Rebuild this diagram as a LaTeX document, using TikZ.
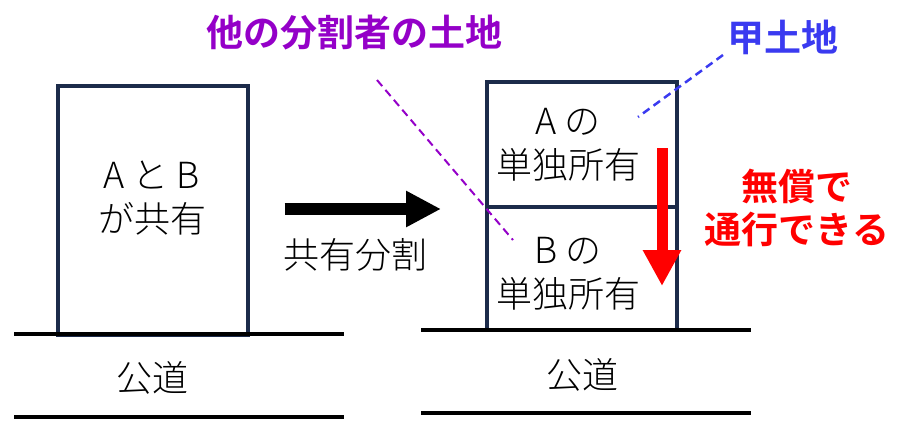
\documentclass[tikz,border=0pt]{standalone}
\usepackage{fontspec}
\IfFontExistsTF{Noto Sans CJK JP Light}
  {\setmainfont{Noto Sans CJK JP Light}[BoldFont={Noto Sans CJK JP Bold}]}
  {\setmainfont{Noto Sans CJK JP}}
\usetikzlibrary{arrows.meta}
\definecolor{navy}{HTML}{1C2B4A}
\definecolor{plum}{HTML}{9400C8}
\definecolor{landblue}{HTML}{3A3AF0}
\definecolor{alert}{HTML}{FF0000}
\tikzset{
  lot/.style={draw=navy,line width=4pt,minimum width=190pt,inner sep=0pt},
  road/.style={draw=black,line width=4pt},
  txt/.style={font=\fontsize{36}{44}\selectfont,align=center,inner sep=0pt},
  note/.style={font=\fontsize{37}{43}\selectfont\bfseries,align=center,inner sep=0pt},
  leader/.style={line width=2pt,dash pattern=on 8pt off 5pt},
  bigarrow/.style={draw=black,line width=12pt,-{Triangle[length=35pt,width=34pt]}},
  freearrow/.style={draw=alert,line width=11pt,-{Triangle[length=36pt,width=36pt]}}
}

\begin{document}
\begin{tikzpicture}[x=1pt,y=-1pt]
  \useasboundingbox (0,0) rectangle (903,424);
  % before partition
  \node[lot,minimum height=249pt] (joint) at (152.5,210.5) {};
  \node[txt] (jointtext) at (152,198) {A と B\\が共有};
  \draw[road] (14,334) -- (344,334);
  \draw[road] (14,417) -- (344,417);
  \node[txt] (roadleft) at (152,378) {公道};
  % after partition
  \node[lot,minimum height=125pt] (parcela) at (582,144.5) {};
  \node[lot,minimum height=123pt] (parcelb) at (582,268.5) {};
  \node[txt] (parcelatext) at (568,145) {A の\\単独所有};
  \node[txt] (parcelbtext) at (568,274) {B の\\単独所有};
  \draw[road] (421,330) -- (751,330);
  \draw[road] (421,413) -- (751,413);
  \node[txt] (roadright) at (582,375) {公道};
  \draw[bigarrow,shorten <=35pt,shorten >=44pt] (joint.east |- parcela.south west) -- (parcela.south west);
  \node[txt] (splitlabel) at (355,255) {共有分割};
  % callouts
  \node[note,text=plum] (otherland) at (354,33) {他の分割者の土地};
  \node[note,text=landblue] (kouland) at (783,37) {甲土地};
  \node[note,text=alert] (freepass) at (797,208) {無償で\\通行できる};
  \coordinate (otherstart) at (377,80);
  \coordinate (otherend) at (513,240);
  \coordinate (koustart) at (723,55);
  \coordinate (kouend) at (638,117);
  \draw[leader,plum] (otherstart) -- (otherend);
  \draw[leader,landblue,line width=2.5pt] (koustart) -- (kouend);
  \coordinate (passtop) at (662,148);
  \coordinate (passend) at (662,286);
  \draw[freearrow] (passtop) -- (passend);
\end{tikzpicture}
\end{document}
